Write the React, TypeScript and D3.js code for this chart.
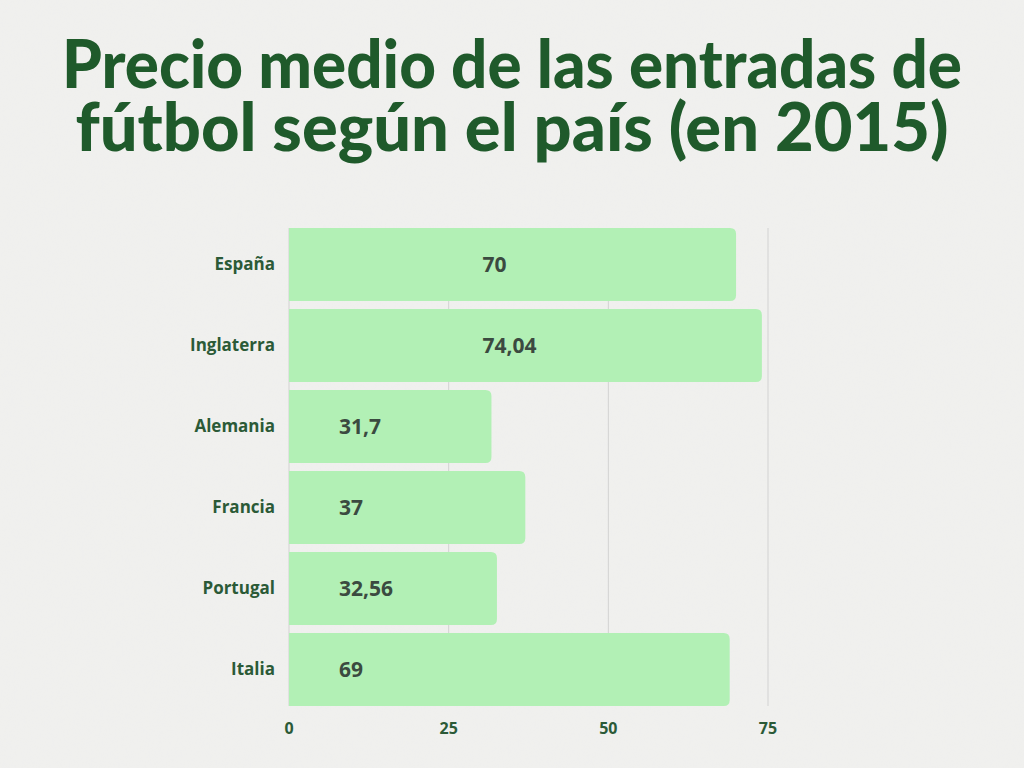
import React from "react";
import * as d3 from "d3";

const categories = ["España", "Inglaterra", "Alemania", "Francia", "Portugal", "Italia"];
const values = [70, 74.04, 31.7, 37, 32.56, 69];
const valueLabels = ["70", "74,04", "31,7", "37", "32,56", "69"];
const xTicks = [0, 25, 50, 75];
const titleLines = ["Precio medio de las entradas de", "fútbol según el país (en 2015)"];

const W = 1024;
const H = 768;

export default function App() {
  const x = d3.scaleLinear().domain([0, 75]).range([289, 768]);
  const y = d3.scaleBand<string>().domain(categories).range([224, 710]).paddingInner(0.1).paddingOuter(0.05);
  const bw = y.bandwidth();
  const r = 6;

  const barPath = (v: number, c: string) => {
    const x0 = x(0);
    const x1 = x(v);
    const y0 = y(c)!;
    const y1 = y0 + bw;
    return `M${x0},${y0}H${x1 - r}Q${x1},${y0} ${x1},${y0 + r}V${y1 - r}Q${x1},${y1} ${x1 - r},${y1}H${x0}Z`;
  };

  return (
    <svg width={W} height={H} style={{ position: "absolute", left: 0, top: 0, display: "block" }}>
      <defs>
        <filter id="tex" x="0" y="0" width="100%" height="100%">
          <feTurbulence type="fractalNoise" baseFrequency="0.9 0.05" numOctaves="2" seed="3" result="n" />
          <feColorMatrix type="matrix" values="0 0 0 0 0.85  0 0 0 0 0.85  0 0 0 0 0.84  0 0 0 0.35 0" />
        </filter>
      </defs>
      <rect width={W} height={H} fill="#f0f0ee" />
      <rect width={W} height={H} filter="url(#tex)" opacity={0.5} />
      <g fontFamily="Lato, 'Open Sans', sans-serif" fontWeight={900} fill="#1f5a2b" textAnchor="middle">
        <text x={512} y={88} fontSize={66} textLength={900} lengthAdjust="spacingAndGlyphs">{titleLines[0]}</text>
        <text x={512} y={151} fontSize={66} textLength={873} lengthAdjust="spacingAndGlyphs">{titleLines[1]}</text>
      </g>
      {xTicks.map((t) => (
        <line key={t} x1={x(t)} x2={x(t)} y1={228} y2={706} stroke="#d2d2d2" strokeWidth={1} />
      ))}
      {categories.map((c, i) => (
        <path key={c} d={barPath(values[i], c)} fill="#b2f0b5" />
      ))}
      {categories.map((c, i) => (
        <text
          key={"l" + c}
          x={275}
          y={y(c)! + bw / 2}
          dy="0.35em"
          textAnchor="end"
          fontFamily="'Open Sans', sans-serif"
          fontWeight={700}
          fontSize={17}
          fill="#2b5a37"
        >
          {c}
        </text>
      ))}
      {categories.map((c, i) => (
        <text
          key={"v" + c}
          x={values[i] >= 70 ? x(30) + 2 : x(0) + 50}
          y={y(c)! + bw / 2}
          dy="0.35em"
          fontFamily="'Open Sans', sans-serif"
          fontWeight={700}
          fontSize={21}
          fill="#3b4a40"
        >
          {valueLabels[i]}
        </text>
      ))}
      {xTicks.map((t) => (
        <text
          key={"t" + t}
          x={x(t)}
          y={728}
          dy="0.35em"
          textAnchor="middle"
          fontFamily="'Open Sans', sans-serif"
          fontWeight={700}
          fontSize={16}
          fill="#2b5a37"
        >
          {t}
        </text>
      ))}
    </svg>
  );
}
